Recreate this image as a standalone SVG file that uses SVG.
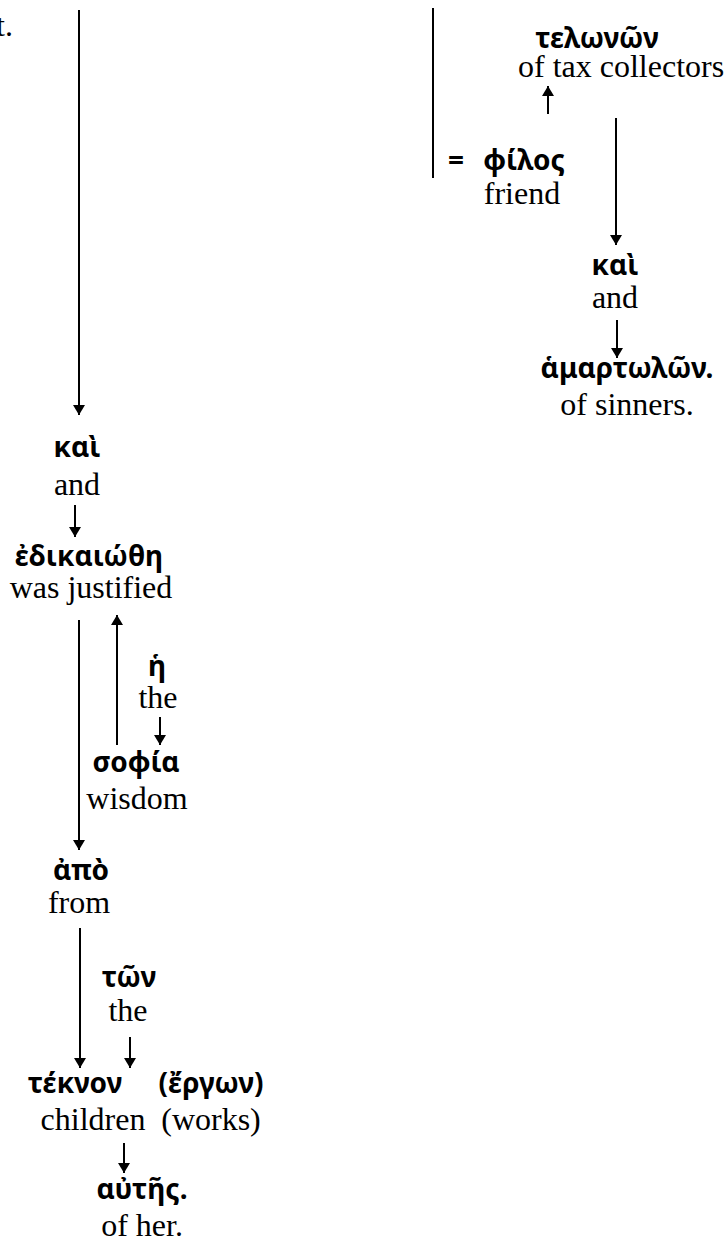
<svg xmlns="http://www.w3.org/2000/svg" width="724" height="1245" viewBox="0 0 724 1245">
  <style>
    .gk { font-family: "Noto Sans", "DejaVu Sans", sans-serif; font-weight: bold; font-size: 28px; fill: #000; text-anchor: middle; }
    .en { font-family: "Liberation Serif", "Times New Roman", serif; font-size: 32px; fill: #000; text-anchor: middle; }
    .ln { stroke: #000; stroke-width: 2; fill: none; }
    .ar { stroke: #000; stroke-width: 2; fill: none; marker-end: url(#head); }
  </style>
  <defs>
    <marker id="head" viewBox="0 0 10 12" refX="10" refY="6" markerWidth="10" markerHeight="12" markerUnits="userSpaceOnUse" orient="auto">
      <path d="M0,0 L10,6 L0,12 Z" fill="#000"/>
    </marker>
  </defs>

  <g id="connectors">
    <!-- left column -->
    <line class="ar" x1="79" y1="10" x2="79" y2="415"/>
    <line class="ar" x1="75" y1="505" x2="75" y2="537"/>
    <line class="ar" x1="79" y1="620" x2="79" y2="850"/>
    <line class="ar" x1="117" y1="745" x2="117" y2="615"/>
    <line class="ar" x1="160" y1="717" x2="160" y2="745"/>
    <line class="ar" x1="80" y1="928" x2="80" y2="1068"/>
    <line class="ar" x1="130" y1="1037" x2="130" y2="1068"/>
    <line class="ar" x1="124" y1="1143" x2="124" y2="1173"/>
    <!-- right column -->
    <line class="ln" x1="433" y1="8" x2="433" y2="178"/>
    <line class="ar" x1="548" y1="114" x2="548" y2="86"/>
    <line class="ar" x1="616" y1="118" x2="616" y2="245"/>
    <line class="ar" x1="617" y1="320" x2="617" y2="358"/>
  </g>

  <g id="n-t"><text class="en" x="13" y="36" style="text-anchor:end">t.</text></g>

  <g id="n-telonon">
    <text class="gk" x="597" y="48">τελωνῶν</text>
    <text class="en" x="518" y="77" style="text-anchor:start">of tax collectors</text>
  </g>
  <g id="n-philos">
    <text class="gk" x="456" y="170">=</text>
    <text class="gk" x="524" y="170">φίλος</text>
    <text class="en" x="522" y="204">friend</text>
  </g>
  <g id="n-kai2">
    <text class="gk" x="615" y="275">καὶ</text>
    <text class="en" x="615" y="308">and</text>
  </g>
  <g id="n-hamartolon">
    <text class="gk" x="627" y="378">ἁμαρτωλῶν.</text>
    <text class="en" x="627" y="415">of sinners.</text>
  </g>

  <g id="n-kai1">
    <text class="gk" x="77" y="457">καὶ</text>
    <text class="en" x="77" y="495">and</text>
  </g>
  <g id="n-edikaiothe">
    <text class="gk" x="89" y="566">ἐδικαιώθη</text>
    <text class="en" x="91" y="598">was justified</text>
  </g>
  <g id="n-he">
    <text class="gk" x="157" y="676">ἡ</text>
    <text class="en" x="158" y="708">the</text>
  </g>
  <g id="n-sophia">
    <text class="gk" x="136" y="772">σοφία</text>
    <text class="en" x="137" y="809">wisdom</text>
  </g>
  <g id="n-apo">
    <text class="gk" x="81" y="880">ἀπὸ</text>
    <text class="en" x="79" y="913">from</text>
  </g>
  <g id="n-ton">
    <text class="gk" x="129" y="987">τῶν</text>
    <text class="en" x="128" y="1021">the</text>
  </g>
  <g id="n-teknon">
    <text class="gk" x="75" y="1093">τέκνον</text>
    <text class="en" x="93" y="1130">children</text>
  </g>
  <g id="n-ergon">
    <text class="gk" x="211" y="1093">(ἔργων)</text>
    <text class="en" x="211" y="1130">(works)</text>
  </g>
  <g id="n-autes">
    <text class="gk" x="142" y="1199">αὐτῆς.</text>
    <text class="en" x="142" y="1236">of her.</text>
  </g>
</svg>
